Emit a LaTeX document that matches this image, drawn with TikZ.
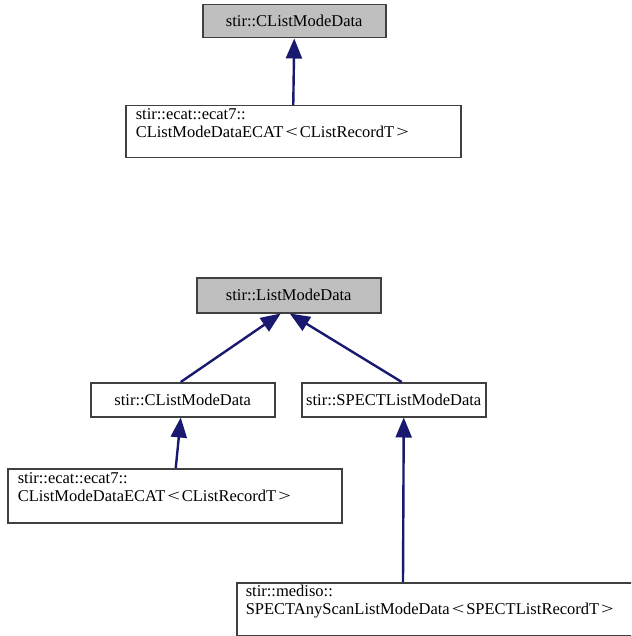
\documentclass[tikz,border=0pt]{standalone}
\usepackage{fontspec}
\usepackage{graphicx}
\setmainfont{Liberation Serif}
\usetikzlibrary{arrows.meta,calc}
\definecolor{edgeblue}{HTML}{191970}
\definecolor{boxgray}{HTML}{BFBFBF}
\definecolor{bordergray}{HTML}{404040}
\newcommand\tlt{\kern2pt\scalebox{1.35}[1]{<}\kern2pt}
\newcommand\tgt{\kern2pt\scalebox{1.35}[1]{>}}
\tikzset{
  cls/.style={draw=bordergray, line width=1.5pt, rectangle, inner sep=0pt,
    font=\fontsize{16.5}{18}\selectfont, text=black, anchor=north west},
  basecls/.style={cls, fill=boxgray},
  inh/.style={draw=edgeblue, line width=2.4pt, -{Triangle[length=20pt,width=16pt]}},
}
\begin{document}
\begin{tikzpicture}[x=1pt,y=-1pt]
\path[use as bounding box, clip] (0,0) rectangle (631,636);
\fill[white] (0,0) rectangle (631,636);
% upper group
\node[basecls, minimum width=183pt, minimum height=33pt] (A) at (202,4) {stir::CListModeData};
\node[cls, minimum width=335pt, minimum height=52pt, text width=315pt, align=left] (B) at (125,105)
  {stir::ecat::ecat7::\\CListModeDataECAT\tlt CListRecordT\tgt\\\mbox{}};
% lower group
\node[basecls, minimum width=184pt, minimum height=35pt] (C) at (196,277) {stir::ListModeData};
\node[cls, minimum width=184pt, minimum height=34pt] (D) at (90,382) {stir::CListModeData};
\node[cls, minimum width=184pt, minimum height=34pt] (E) at (301,382) {stir::SPECTListModeData};
\node[cls, minimum width=334pt, minimum height=54pt, text width=314pt, align=left] (F) at (7,468)
  {stir::ecat::ecat7::\\CListModeDataECAT\tlt CListRecordT\tgt\\\mbox{}};
\node[cls, minimum width=404pt, minimum height=53pt, text width=386pt, align=left] (G) at (236,582)
  {stir::mediso::\\SPECTAnyScanListModeData\tlt SPECTListRecordT\tgt\\\mbox{}};
% connectors
\draw[inh] (B.north) -- (A.south);
\draw[inh] ($(D.north)+(-2,0)$) -- ($(C.south)+(-8,0)$);
\draw[inh] ($(E.north)+(8,0)$) -- ($(C.south)+(1,0)$);
\draw[inh] ($(F.north)+(1,0)$) -- ($(D.south)+(-2,0)$);
\draw[inh] ($(G.north west)+(167,0)$) -- ($(E.south)+(10,0)$);
\end{tikzpicture}
\end{document}
